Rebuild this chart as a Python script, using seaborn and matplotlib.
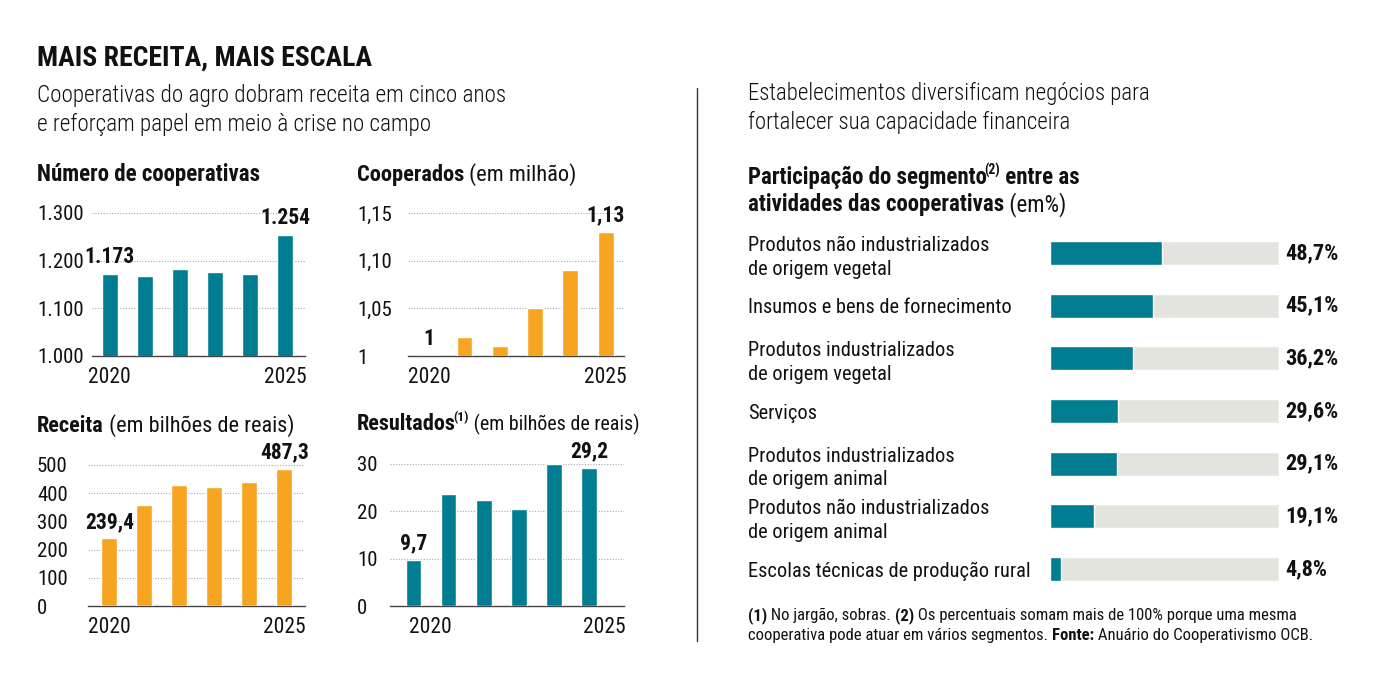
import matplotlib
matplotlib.use('Agg')
import matplotlib.pyplot as plt
from matplotlib.lines import Line2D
import seaborn as sns
import pandas as pd

sns.set_style('white')
plt.rcParams['font.family'] = ['Liberation Sans Narrow', 'Roboto Condensed', 'DejaVu Sans']
plt.rcParams['font.stretch'] = 'condensed'

W, H = 1380, 678
TEAL = '#007d91'
ORANGE = '#f7a521'
TRACK = '#e4e4df'
TXT = '#111111'

# data
years = ['2020', '2021', '2022', '2023', '2024', '2025']
n_coops = [1173, 1168, 1183, 1177, 1172, 1254]
cooperados = [1.00, 1.02, 1.01, 1.05, 1.09, 1.13]
receita = [239.4, 358, 429, 423, 438, 487.3]
resultados = [9.7, 23.6, 22.5, 20.5, 30.1, 29.2]

segments = [
    'Produtos não industrializados\nde origem vegetal',
    'Insumos e bens de fornecimento',
    'Produtos industrializados\nde origem vegetal',
    'Serviços',
    'Produtos industrializados\nde origem animal',
    'Produtos não industrializados\nde origem animal',
    'Escolas técnicas de produção rural',
]
shares = [48.7, 45.1, 36.2, 29.6, 29.1, 19.1, 4.8]
share_max = 100

fig = plt.figure(figsize=(W / 100, H / 100), dpi=100)
fig.patch.set_facecolor('white')
renderer = fig.canvas.get_renderer()


def px_axes(x0, y0, x1, y1):
    return fig.add_axes([x0 / W, 1 - y1 / H, (x1 - x0) / W, (y1 - y0) / H])


def text_w(s, **kw):
    t = fig.text(0, 0, s + '|', **kw)
    w1 = t.get_window_extent(renderer).width
    t.remove()
    t = fig.text(0, 0, '|', **kw)
    w2 = t.get_window_extent(renderer).width
    t.remove()
    return w1 - w2


def rich(x, y, parts, size, weight='normal'):
    # parts: (text, bold, superscript) or (text, bold, superscript, size)
    for part in parts:
        s, bold, sup = part[:3]
        base = part[3] if len(part) > 3 else size
        sz = base * 0.6 if sup else base
        kw = dict(fontsize=sz, fontweight='bold' if bold is True else (bold or weight), color=TXT)
        yy = y - base * 0.55 if sup else y
        if sup:
            x -= 2.5
        fig.text(x / W, 1 - yy / H, s, ha='left', va='baseline', **kw)
        x += text_w(s, **kw)


def fmt_num(v):
    if v >= 1000:
        return '{:,}'.format(v).replace(',', '.')
    return '{:g}'.format(v).replace('.', ',')


def small_chart(box, vals, color, ylim, yticks, ylabels, xlim, xticks, ypad_px):
    ax = px_axes(*box)
    sns.barplot(x=years, y=vals, color=color, saturation=1, width=0.45, ax=ax, zorder=3)
    ax.set_ylim(ylim)
    ax.set_xlim(xlim)
    ax.set_yticks(yticks)
    ax.set_yticklabels(ylabels)
    ax.set_xticks(xticks)
    ax.set_xticklabels(['2020', '2025'])
    ax.set_xlabel('')
    ax.set_ylabel('')
    ax.tick_params(axis='y', length=0, pad=ypad_px * 0.72, labelsize=15, labelcolor=TXT)
    ax.tick_params(axis='x', length=0, pad=8, labelsize=15.5, labelcolor=TXT)
    for lab in ax.get_yticklabels():
        lab.set_ha('left')
    ax.grid(axis='y', color='#a8a8a8', linestyle=(0, (1, 1.5)), linewidth=0.8)
    ax.set_axisbelow(True)
    for side in ['top', 'right', 'left']:
        ax.spines[side].set_visible(False)
    ax.spines['bottom'].set_color('#444444')
    ax.spines['bottom'].set_linewidth(1)
    ax.patch.set_alpha(0)
    for i in (0, len(vals) - 1):
        ax.annotate(fmt_num(vals[i]), xy=(i, vals[i]), xytext=(0, 4),
                    textcoords='offset points', ha='center', va='bottom',
                    fontsize=15.5, fontweight='bold', color=TXT, annotation_clip=False)
    return ax


small_chart((92, 213, 305, 356), n_coops, TEAL, (1000, 1300),
            [1000, 1100, 1200, 1300], ['1.000', '1.100', '1.200', '1.300'],
            (-0.51, 5.57), [0, 5], 92 - 37)
small_chart((408, 213, 624, 356), cooperados, ORANGE, (1, 1.15),
            [1, 1.05, 1.10, 1.15], ['1', '1,05', '1,10', '1,15'],
            (-0.6, 5.52), [0, 5], 408 - 357)
small_chart((88, 465, 305, 606), receita, ORANGE, (0, 500),
            [0, 100, 200, 300, 400, 500], ['0', '100', '200', '300', '400', '500'],
            (-0.61, 5.59), [0, 5], 88 - 37)
small_chart((390, 464, 624, 606), resultados, TEAL, (0, 30),
            [0, 10, 20, 30], ['0', '10', '20', '30'],
            (-0.67, 6.0), [0.47, 5.43], 390 - 357)

# right panel bars
ax = px_axes(1050, 226.7, 1279, 595.3)
df = pd.DataFrame({'segment': segments, 'share': shares})
sns.barplot(x=[share_max] * len(segments), y=segments, color=TRACK, saturation=1, width=0.46, ax=ax)
sns.barplot(data=df, x='share', y='segment', color=TEAL, saturation=1, width=0.46, ax=ax)
ax.set_xlim(0, share_max)
ax.set_ylim(len(segments) - 0.5, -0.5)
ax.set_xlabel('')
ax.set_ylabel('')
ax.set_xticks([])
for side in ax.spines:
    ax.spines[side].set_visible(False)
ax.tick_params(axis='y', length=0, pad=(1050 - 748) * 0.72, labelsize=14.7, labelcolor=TXT)
for lab in ax.get_yticklabels():
    lab.set_ha('left')
    lab.set_linespacing(1.3)
for i, v in enumerate(shares):
    ax.annotate('{:.1f}%'.format(v).replace('.', ','), xy=(share_max, i), xytext=(4.5, 0),
                textcoords='offset points', ha='left', va='center',
                fontsize=16, fontweight='bold', color=TXT, annotation_clip=False)

# texts
rich(37, 66, [('MAIS RECEITA, MAIS ESCALA', 'black', False)], 20)
rich(37, 102, [('Cooperativas do agro dobram receita em cinco anos', False, False)], 16.7, weight='light')
rich(37, 131, [('e reforçam papel em meio à crise no campo', False, False)], 16.7, weight='light')
rich(748, 100, [('Estabelecimentos diversificam negócios para', False, False)], 16.5, weight='light')
rich(748, 129, [('fortalecer sua capacidade financeira', False, False)], 16.5, weight='light')

rich(37, 181, [('Número de cooperativas', True, False)], 16.5)
rich(357, 181, [('Cooperados', True, False), (' (em milhão)', False, False)], 16.2)
rich(37, 432, [('Receita', True, False), (' (em bilhões de reais)', False, False)], 16)
rich(357, 430, [('Resultados', True, False), ('(1)', True, True), (' (em bilhões de reais)', False, False, 14.4)], 16)

rich(748, 184, [('Participação do segmento', True, False), ('(2)', True, True), (' entre as', True, False)], 16.5)
rich(748, 211, [('atividades das cooperativas', True, False), (' (em%)', False, False)], 16.5)

rich(748, 620, [('(1)', True, False), (' No jargão, sobras. ', False, False), ('(2)', True, False),
                (' Os percentuais somam mais de 100% porque uma mesma', False, False)], 12.0)
rich(748, 640, [('cooperativa pode atuar em vários segmentos. ', False, False), ('Fonte:', True, False),
                (' Anuário do Cooperativismo OCB.', False, False)], 12.0)

fig.add_artist(Line2D([697 / W, 697 / W], [1 - 88 / H, 1 - 641 / H], color='#333333', linewidth=1))

fig.savefig('out.png', dpi=100, facecolor='white')
